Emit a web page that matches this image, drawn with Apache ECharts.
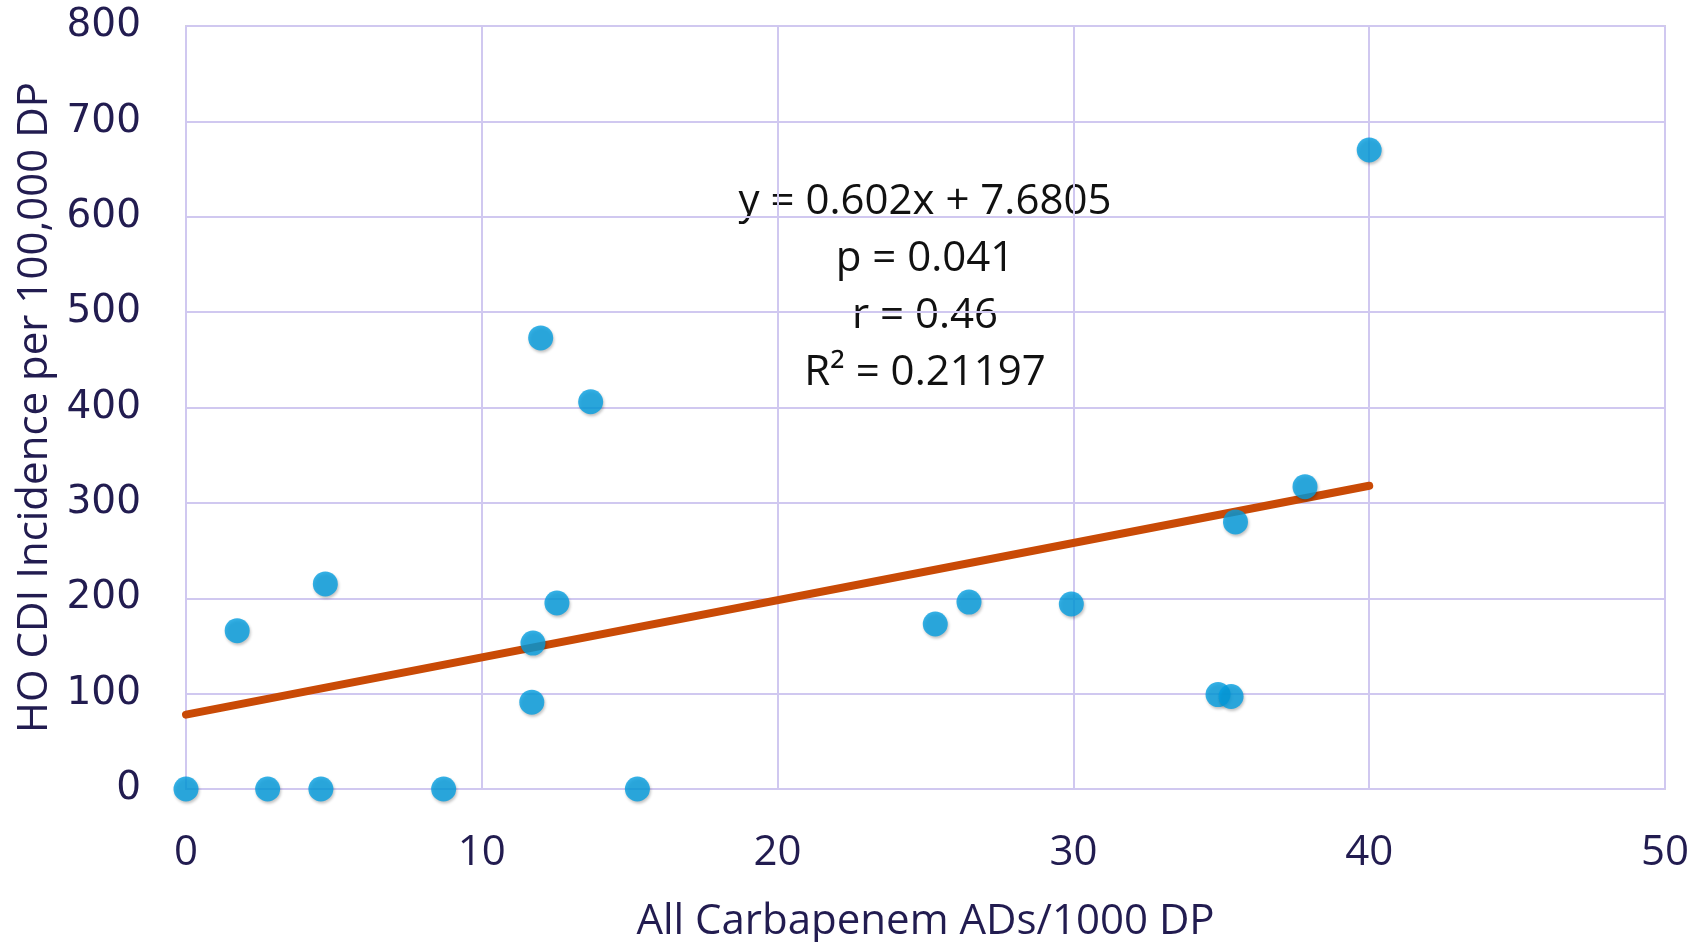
<!DOCTYPE html>
<html lang="en">
<head>
  <meta charset="UTF-8">
  <title>CDI vs Carbapenem</title>
  <style>
    * {
      margin: 0;
      padding: 0;
    }

    body {
      background-color: #ffffff;
    }

    .box {
      width: 1705px;
      height: 942px;
    }
  </style>
</head>
<body>
  <div class="box"></div>

  <script src="https://cdn.jsdelivr.net/npm/echarts@6/dist/echarts.min.js"></script>
  <script>
    // x: All Carbapenem ADs/1000 DP
    var xVals = [0, 1.73, 2.76, 4.56, 4.71, 8.71, 11.99, 11.73, 11.69, 12.54, 13.68, 15.26, 25.33, 26.47, 29.93, 34.89, 35.33, 35.48, 37.83, 40.0];
    // y: HO CDI Incidence per 100,000 DP
    var yVals = [0, 166, 0, 0, 215, 0, 473, 153, 91, 195, 406, 0, 173, 196, 194, 99, 97, 280, 317, 670];
    // trend line ends
    var trendX = [0, 40];
    var trendY = [78, 318];
    var statLines = ['y = 0.602x + 7.6805', 'p = 0.041', 'r = 0.46', 'R\u00b2 = 0.21197'];

    var points = [];
    for (var i = 0; i < xVals.length; i++) {
      points.push([xVals[i], yVals[i]]);
    }
    var trend = [];
    for (var j = 0; j < trendX.length; j++) {
      trend.push([trendX[j], trendY[j]]);
    }

    var myChart = echarts.init(document.querySelector('.box'));
    var navy = '#221c50';
    var option = {
      animation: false,
      grid: {
        left: 186,
        right: 40,
        top: 26,
        bottom: 153,
        containLabel: false,
        outerBoundsMode: 'none',
        show: true,
        borderColor: '#d4d4d4',
        borderWidth: 2
      },
      xAxis: {
        type: 'value',
        min: 0,
        max: 50,
        interval: 10,
        name: 'All Carbapenem ADs/1000 DP',
        nameLocation: 'middle',
        nameGap: 112,
        nameTextStyle: { fontFamily: 'Open Sans', fontSize: 42, color: navy },
        axisLine: { show: false },
        axisTick: { show: false },
        axisLabel: { fontFamily: 'Open Sans', fontSize: 42, color: navy, margin: 43 },
        splitLine: { lineStyle: { color: '#d0c8f0', width: 2 } }
      },
      yAxis: {
        type: 'value',
        min: 0,
        max: 800,
        interval: 100,
        name: 'HO CDI Incidence per 100,000 DP',
        nameLocation: 'middle',
        nameGap: 128,
        nameTextStyle: { fontFamily: 'Open Sans', fontSize: 42, color: navy },
        axisLine: { show: false },
        axisTick: { show: false },
        axisLabel: { fontFamily: 'DejaVu Sans', fontSize: 39, color: navy, margin: 45 },
        splitLine: { lineStyle: { color: '#d0c8f0', width: 2 } }
      },
      graphic: [
        {
          type: 'text',
          x: 925,
          y: 174,
          style: {
            text: statLines.join('\n'),
            fontFamily: 'Open Sans',
            fontSize: 42,
            lineHeight: 57,
            fill: '#111111',
            align: 'center'
          }
        }
      ],
      series: [
        {
          type: 'line',
          data: trend,
          symbol: 'none',
          z: 3,
          lineStyle: { color: '#c94a06', width: 8, cap: 'round' }
        },
        {
          type: 'scatter',
          data: points,
          symbolSize: 25,
          z: 4,
          itemStyle: {
            color: '#039ee0',
            shadowColor: 'rgba(0,0,0,0.3)',
            shadowBlur: 3,
            shadowOffsetX: 1,
            shadowOffsetY: 2
          }
        }
      ]
    };
    myChart.setOption(option);
  </script>
</body>
</html>
